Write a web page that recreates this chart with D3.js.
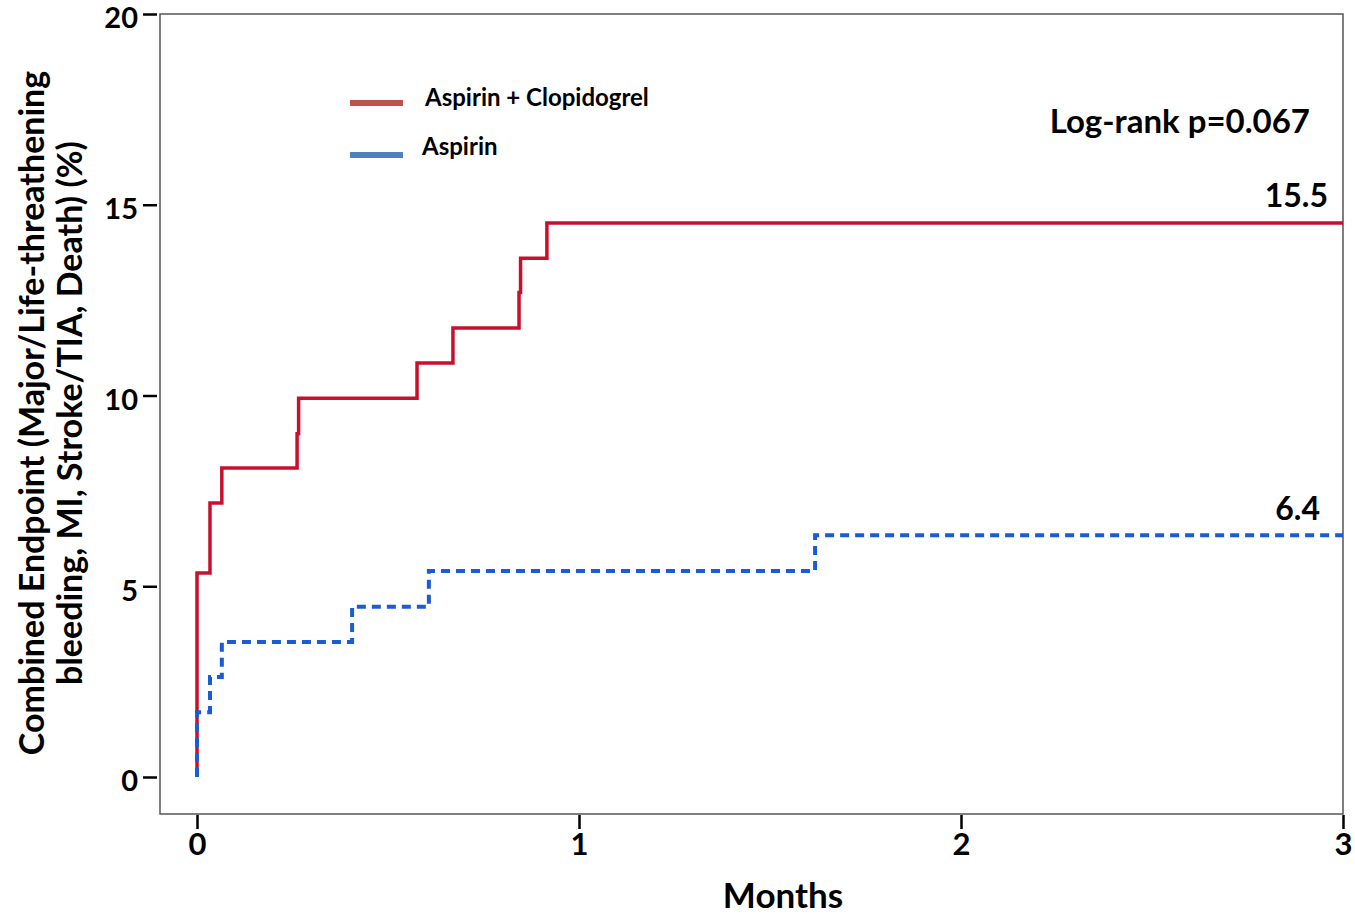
<!DOCTYPE html>
<html>
<head>
<meta charset="utf-8">
<script src="https://cdn.jsdelivr.net/npm/d3@7"></script>
<style>
  body { margin: 0; background: #fff; }
  svg text { font-family: Lato, "Open Sans", sans-serif; font-weight: bold; fill: #000; }
</style>
</head>
<body>
<script>
// step data (months, cumulative %)
var redTime = [0, 0, 0.034, 0.065, 0.262, 0.266, 0.576, 0.670, 0.843, 0.847, 0.916, 3];
var redVal  = [0, 5.35, 7.18, 8.1, 9.0, 9.93, 10.85, 11.77, 12.7, 13.6, 14.52, 14.52];

var blueTime = [0, 0, 0.034, 0.065, 0.406, 0.607, 1.618, 3];
var blueVal  = [0, 1.7, 2.62, 3.54, 4.46, 5.4, 6.34, 6.34];

var seriesNames = ["Aspirin + Clopidogrel", "Aspirin"];
var endLabels = ["15.5", "6.4"];
var xTicks = [0, 1, 2, 3];
var yTicks = [0, 5, 10, 15, 20];
var pText = "Log-rank p=0.067";

window.onload = function(){

	var w = 1355, h = 916;
	var left = 160, right = 1343, top = 14, bottom = 814;

	var svg = d3.select("body")
		.append("svg")
		.attr("width", w)
		.attr("height", h);

	var x = d3.scaleLinear()
		.domain([0, 3])
		.range([197, 1343]);

	var y = d3.scaleLinear()
		.domain([0, 20])
		.range([777, 14]);

	// frame
	svg.append("rect")
		.attr("x", left)
		.attr("y", top)
		.attr("width", right - left)
		.attr("height", bottom - top)
		.style("fill", "none")
		.style("stroke", "#555")
		.style("stroke-width", 1.5);

	// y axis
	var yAxis = d3.axisLeft(y)
		.tickValues(yTicks)
		.tickFormat(d3.format("d"))
		.tickSize(14)
		.tickPadding(5);

	var gy = svg.append("g")
		.attr("transform", "translate(" + (left - 3) + ",0)")
		.call(yAxis);
	gy.select(".domain").remove();
	gy.selectAll("line").style("stroke", "#000").style("stroke-width", 2.5);
	gy.selectAll("text").attr("dy", "0.48em").style("font-size", "29px").style("font-family", "Lato, sans-serif");

	// x axis
	var xAxis = d3.axisBottom(x)
		.tickValues(xTicks)
		.tickFormat(d3.format("d"))
		.tickSize(14)
		.tickPadding(4);

	var gx = svg.append("g")
		.attr("transform", "translate(0," + (bottom + 1) + ")")
		.call(xAxis);
	gx.select(".domain").remove();
	gx.selectAll("line").style("stroke", "#000").style("stroke-width", 2.5);
	gx.selectAll("text").style("font-size", "31px").style("font-family", "Lato, sans-serif");

	var line = d3.line()
		.x(function(d){ return x(d[0]); })
		.y(function(d){ return y(d[1]); })
		.curve(d3.curveStepAfter);

	var redData = redTime.map(function(t, i){ return [t, redVal[i]]; });
	var blueData = blueTime.map(function(t, i){ return [t, blueVal[i]]; });

	svg.append("path")
		.datum(redData)
		.attr("d", line)
		.style("fill", "none")
		.style("stroke", "#c8102e")
		.style("stroke-width", 3.5);

	svg.append("path")
		.datum(blueData)
		.attr("d", line)
		.style("fill", "none")
		.style("stroke", "#1a5cd6")
		.style("stroke-width", 4)
		.style("stroke-dasharray", "9,6");

	// legend
	var legColors = ["#c0504d", "#4f81bd"];
	var legY = [103, 155];
	seriesNames.forEach(function(name, i){
		svg.append("line")
			.attr("x1", 350)
			.attr("x2", 403)
			.attr("y1", legY[i])
			.attr("y2", legY[i])
			.style("stroke", legColors[i])
			.style("stroke-width", 6);
		svg.append("text")
			.attr("x", i == 0 ? 425 : 422)
			.attr("y", legY[i] + (i == 0 ? 3 : 0))
			.style("font-size", "24px")
			.text(name);
	});

	svg.append("text")
		.attr("x", 1310)
		.attr("y", 133)
		.attr("text-anchor", "end")
		.style("font-size", "33px")
		.text(pText);

	// end values
	svg.append("text")
		.attr("x", 1328)
		.attr("y", y(redVal[redVal.length - 1]) - 16)
		.attr("text-anchor", "end")
		.style("font-size", "32px")
		.text(endLabels[0]);

	svg.append("text")
		.attr("x", 1320)
		.attr("y", y(blueVal[blueVal.length - 1]) - 15)
		.attr("text-anchor", "end")
		.style("font-size", "32px")
		.text(endLabels[1]);

	// axis titles
	svg.append("text")
		.attr("x", 783)
		.attr("y", 908)
		.attr("text-anchor", "middle")
		.style("font-size", "35px")
		.text("Months");

	var yt = svg.append("text")
		.attr("transform", "translate(44,413) rotate(-90)")
		.attr("text-anchor", "middle")
		.style("font-size", "34px");
	yt.append("tspan")
		.attr("x", 0)
		.attr("y", 0)
		.text("Combined Endpoint (Major/Life-threathening");
	yt.append("tspan")
		.attr("x", 0)
		.attr("y", 38)
		.text("bleeding, MI, Stroke/TIA, Death) (%)");
};
</script>
</body>
</html>
